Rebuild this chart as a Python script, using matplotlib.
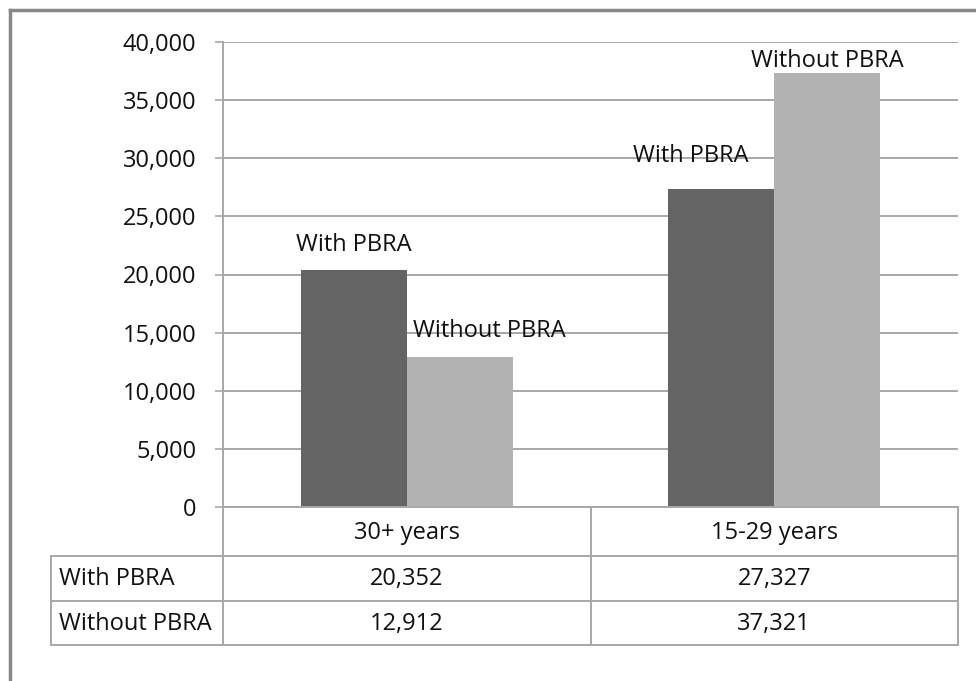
import matplotlib
matplotlib.use("Agg")
import matplotlib.pyplot as plt
from matplotlib.transforms import blended_transform_factory
from matplotlib.lines import Line2D

# ---- data ----
categories = ["30+ years", "15-29 years"]
series_names = ["With PBRA", "Without PBRA"]
with_pbra = [20352, 27327]
without_pbra = [12912, 37321]
y_ticks = [0, 5000, 10000, 15000, 20000, 25000, 30000, 35000, 40000]

# ---- style / layout ----
W, H = 976, 681
plt.rcParams['font.family'] = ['Open Sans', 'DejaVu Sans']
FS = 17
GRID = '#a8a8a8'
DARK = '#646464'
LIGHT = '#b2b2b2'
TXT = '#111111'

fig = plt.figure(figsize=(W / 100, H / 100), dpi=100)
fig.patch.set_facecolor('white')

# axes placement (pixels)
ax_l, ax_r, ax_t, ax_b = 223, 958, 42, 507
ax = fig.add_axes([ax_l / W, 1 - ax_b / H, (ax_r - ax_l) / W, (ax_b - ax_t) / H])

x = list(range(len(categories)))
bw = 0.288
bars1 = ax.bar([i - bw / 2 for i in x], with_pbra, width=bw, color=DARK, zorder=3)
bars2 = ax.bar([i + bw / 2 for i in x], without_pbra, width=bw, color=LIGHT, zorder=3)

ax.set_xlim(-0.5, len(categories) - 0.5)
ax.set_ylim(0, y_ticks[-1])
ax.set_yticks(y_ticks)
ax.set_yticklabels([f"{v:,}" for v in y_ticks], fontsize=FS, color=TXT)
ax.set_xticks([])
ax.yaxis.grid(True, color=GRID, linewidth=1.4, zorder=0)
ax.tick_params(axis='y', length=6, width=1.2, color=GRID, pad=13)
for s in ['top', 'right', 'bottom']:
    ax.spines[s].set_visible(False)
ax.spines['left'].set_color(GRID)
ax.spines['left'].set_linewidth(1.4)
ax.set_facecolor('none')

# bar labels (series name), manually offset like the original (pixels)
label_offsets = [[(0, 19), (30, 20)], [(-31, 27), (0, 6)]]
for ci in x:
    for si, (bars, name) in enumerate(((bars1, series_names[0]), (bars2, series_names[1]))):
        b = bars[ci]
        dx, dy = label_offsets[ci][si]
        ax.annotate(name, (b.get_x() + b.get_width() / 2, b.get_height()),
                    xytext=(dx, dy), textcoords='offset pixels',
                    ha='center', va='baseline', fontsize=FS, color=TXT, zorder=5)

# ---- data table below the axes ----
ov = fig.add_axes([0, 0, 1, 1], facecolor='none')
ov.set_xlim(0, W)
ov.set_ylim(H, 0)
ov.axis('off')

tab_l = 51
row_lines = [556, 601, 645]
mid_x = (ax_l + ax_r) / 2

def hline(y, x0, x1, c=GRID, lw=1.4):
    ov.add_line(Line2D([x0, x1], [y, y], color=c, linewidth=lw))

def vline(xx, y0, y1, c=GRID, lw=1.4):
    ov.add_line(Line2D([xx, xx], [y0, y1], color=c, linewidth=lw))

hline(ax_b, ax_l, ax_r)
for ry in row_lines:
    hline(ry, tab_l, ax_r)
vline(tab_l, row_lines[0], row_lines[-1])
vline(ax_l, ax_b, row_lines[-1])
vline(mid_x, ax_b, row_lines[-1])
vline(ax_r, ax_b, row_lines[-1])

bt = blended_transform_factory(ax.transData, ov.transData)
for ci, cat in enumerate(categories):
    ax.text(ci, 539, cat, transform=bt, ha='center', va='baseline', fontsize=FS, color=TXT)
    ax.text(ci, 585, f"{with_pbra[ci]:,}", transform=bt, ha='center', va='baseline', fontsize=FS, color=TXT)
    ax.text(ci, 630, f"{without_pbra[ci]:,}", transform=bt, ha='center', va='baseline', fontsize=FS, color=TXT)
ov.text(59, 585, series_names[0], ha='left', va='baseline', fontsize=FS, color=TXT)
ov.text(59, 630, series_names[1], ha='left', va='baseline', fontsize=FS, color=TXT)

# outer frame (left and top edges visible in the crop)
ov.add_line(Line2D([9.5, 9.5], [9.5, H], color='#888888', linewidth=2.5))
ov.add_line(Line2D([9.5, W], [9.5, 9.5], color='#888888', linewidth=2.5))

fig.savefig('out.png', dpi=100, facecolor='white')
